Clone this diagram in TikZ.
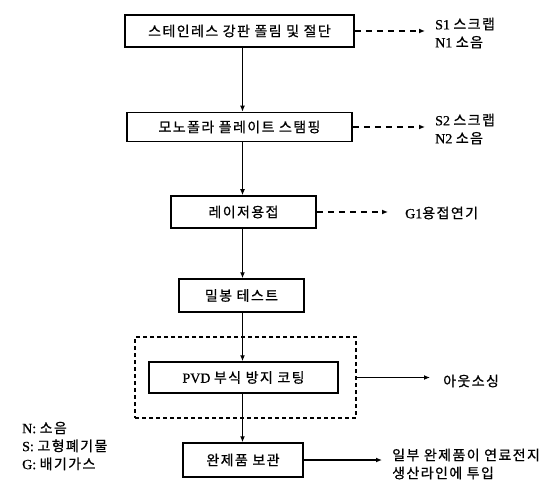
\documentclass[tikz,border=0pt]{standalone}
\usepackage{fontspec}
\setmainfont{Liberation Serif}[FakeBold=0.8]
\newfontfamily\kr{Noto Sans CJK KR}[LetterSpace=10,FakeBold=0.8]
\usetikzlibrary{arrows.meta}
\begin{document}
\begin{tikzpicture}[x=1pt,y=-1pt,
  txt/.style={font=\kr\fontsize{14}{18}\selectfont},
  proc/.style={draw,line width=1.5pt,inner sep=0pt,txt},
  flow/.style={line width=1.4pt,-{Latex[length=6pt,width=5pt]}},
  emit/.style={line width=1.4pt,dash pattern=on 6pt off 5pt,-{Latex[length=6pt,width=5pt]}},
  lbl/.style={anchor=west,inner sep=0pt,align=left,font=\fontsize{14}{18}\selectfont}]
\useasboundingbox[fill=white] (0,0) rectangle (557,497);
\coordinate (axis) at (242.5,0);
% process boxes
\node[proc,minimum width=229pt,minimum height=32pt] (b1) at (239.5,31) {스테인레스 강판 폴림 및 절단};
\node[proc,minimum width=225pt,minimum height=29pt] (b2) at (239.5,127) {모노폴라 플레이트 스탬핑};
\node[proc,minimum width=145pt,minimum height=32pt] (b3) at (243.5,212) {레이저용접};
\node[proc,minimum width=125pt,minimum height=33pt] (b4) at (241.5,295.5) {밀봉 테스트};
\node[draw,line width=1.4pt,dash pattern=on 4pt off 3pt,minimum width=221pt,minimum height=81pt,inner sep=0pt] (dbox) at (245.5,377.5) {};
\node[proc,minimum width=189pt,minimum height=31pt] (b5) at (243.5,377.5) {\rmfamily PVD {\kr 부식 방지 코팅}};
\node[proc,minimum width=120pt,minimum height=34pt] (b6) at (243,460) {완제품 보관};
% side labels
\node[lbl] (s1) at (435,33) {S1 {\kr 스크랩}\\N1 {\kr 소음}};
\node[lbl] (s2) at (435,129) {S2 {\kr 스크랩}\\N2 {\kr 소음}};
\node[lbl] (g1) at (405,213) {G1{\kr 용접연기}};
\node[lbl] (out) at (443,381) {\kr 아웃소싱};
\node[lbl] (fc) at (392,464) {\kr 일부 완제품이 연료전지\\\kr 생산라인에 투입};
\node[lbl] (leg) at (22,446) {N: {\kr 소음}\\S: {\kr 고형폐기물}\\G: {\kr 배기가스}};
% main flow
\draw[flow] (b1.south -| axis) -- (b2.north -| axis);
\draw[flow] (b2.south -| axis) -- (b3.north -| axis);
\draw[flow] (b3.south -| axis) -- (b4.north -| axis);
\draw[flow] (b4.south -| axis) -- (b5.north -| axis);
\draw[flow] (b5.south -| axis) -- (b6.north -| axis);
% emissions
\draw[emit,shorten >=10pt] (b1.east) -- (b1.east -| s1.west);
\draw[emit,shorten >=10pt] (b2.east) -- (b2.east -| s2.west);
\draw[emit,shorten >=17pt] (b3.east) -- (b3.east -| g1.west);
\draw[flow,shorten >=13pt] (dbox.east |- b5) -- (b5 -| out.west);
\draw[flow,shorten >=10pt] (b6.east) -- (b6.east -| fc.west);
\end{tikzpicture}
\end{document}
